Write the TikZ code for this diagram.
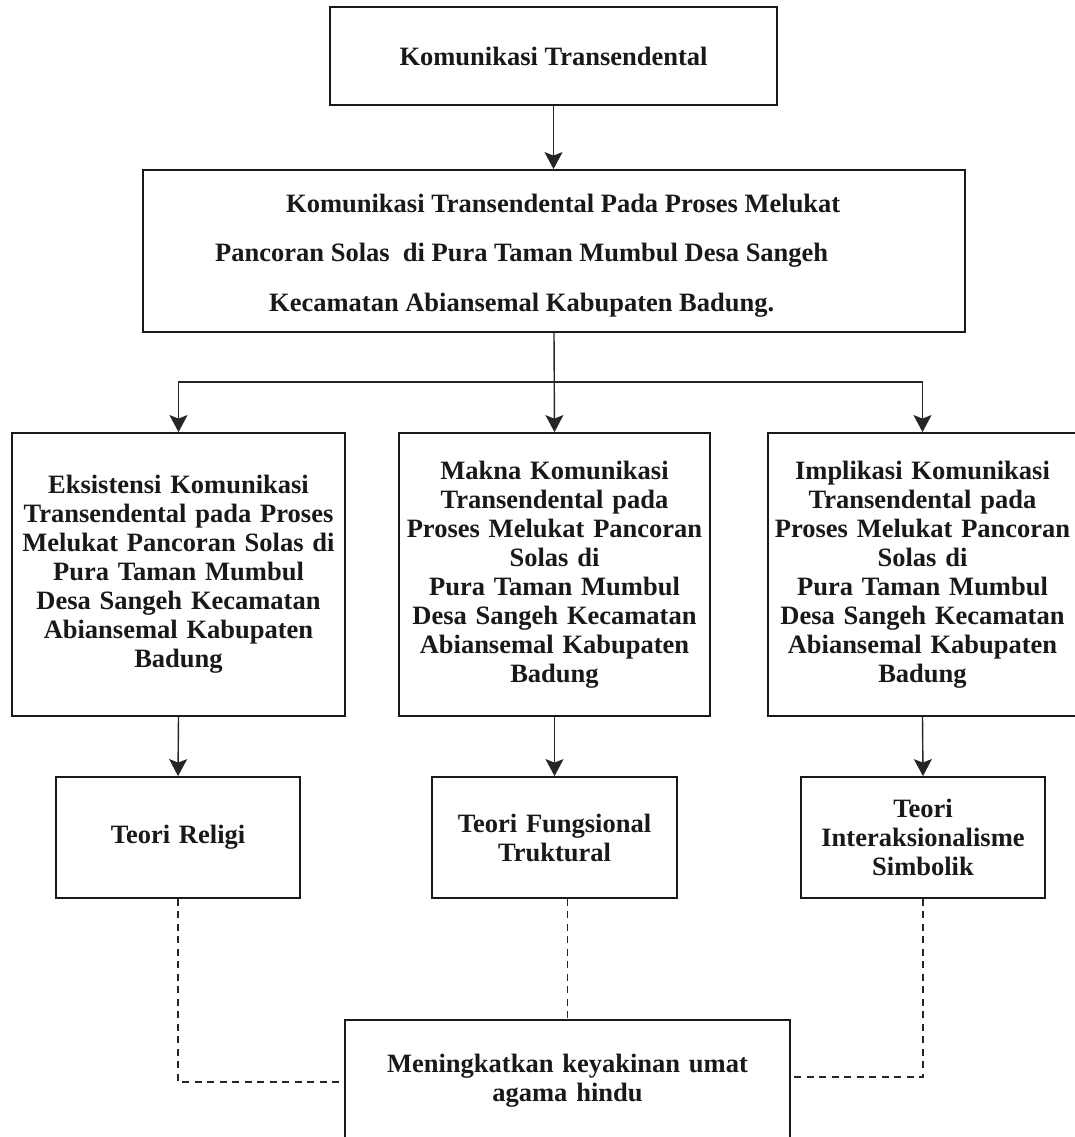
\documentclass[tikz,border=0pt]{standalone}
\usepackage{fontspec}
\setmainfont{Liberation Serif}
\usetikzlibrary{arrows.meta,calc}
\begin{document}
\begin{tikzpicture}[x=1pt,y=-1pt,
  txt/.style={font=\fontsize{26.5}{29}\selectfont\bfseries, text=black!90},
  box/.style={txt, draw=black!90, line width=1.8pt, align=center, inner sep=0pt},
  arr/.style={draw=black!85, line width=1.4pt, -{Stealth[length=17pt,width=18pt,inset=3.5pt]}},
  dashline/.style={draw=black!85, line width=1.4pt, dash pattern=on 7pt off 5.5pt}
]
\clip (0,0) rectangle (1075,1137);
\fill[white] (0,0) rectangle (1075,1137);

% top
\node[box, minimum width=447pt, minimum height=98pt] (top) at (553.5,56) {Komunikasi Transendental};

% main
\node[box, minimum width=822pt, minimum height=162pt] (main) at (554,251) {};
\node[txt, anchor=base west, inner sep=0pt] (m1) at (286,212) {Komunikasi Transendental Pada Proses Melukat};
\node[txt, anchor=base west, inner sep=0pt] (m2) at (215,261) {Pancoran Solas~~di Pura Taman Mumbul Desa Sangeh};
\node[txt, anchor=base west, inner sep=0pt] (m3) at (269,311) {Kecamatan Abiansemal Kabupaten Badung.};

% three middle boxes
\node[box, minimum width=333pt, minimum height=283pt, text width=333pt] (b1) at (178.5,574.5)
  {Eksistensi Komunikasi\\Transendental pada Proses\\Melukat Pancoran Solas di\\Pura Taman Mumbul\\Desa Sangeh Kecamatan\\Abiansemal Kabupaten\\Badung};
\node[box, minimum width=311pt, minimum height=283pt, text width=311pt] (b2) at (554.5,574.5)
  {Makna Komunikasi\\Transendental pada\\Proses Melukat Pancoran\\Solas di\\Pura Taman Mumbul\\Desa Sangeh Kecamatan\\Abiansemal Kabupaten\\Badung};
\node[box, minimum width=309pt, minimum height=283pt, text width=309pt] (b3) at (922.5,574.5)
  {Implikasi Komunikasi\\Transendental pada\\Proses Melukat Pancoran\\Solas di\\Pura Taman Mumbul\\Desa Sangeh Kecamatan\\Abiansemal Kabupaten\\Badung};

% theory boxes
\node[box, minimum width=244pt, minimum height=121pt, text width=244pt] (t1) at (178,837.5) {Teori Religi};
\node[box, minimum width=245pt, minimum height=121pt, text width=245pt] (t2) at (554.5,837.5) {Teori Fungsional\\Truktural};
\node[box, minimum width=244pt, minimum height=121pt, text width=244pt] (t3) at (923,837.5) {Teori\\Interaksionalisme\\Simbolik};

% bottom
\node[box, minimum width=445pt, minimum height=122pt, text width=445pt] (bot) at (567.5,1081) {Meningkatkan keyakinan umat\\agama hindu};

% connectors
\coordinate (hub) at (554,382);
\draw[arr] (top.south) -- (main.north -| top.south);
\draw[arr] (main.south) -- (b2.north);
\draw[arr] (hub) -| (b1.north);
\draw[arr] (hub) -| (b3.north);
\draw[arr] (b1.south) -- (t1.north);
\draw[arr] (b2.south) -- (t2.north);
\draw[arr] (b3.south) -- (t3.north);

\draw[dashline] (t1.south) |- ($(bot.west)+(0,1)$);
\draw[dashline] (bot.north |- t2.south) -- (bot.north);
\draw[dashline] (t3.south) |- ($(bot.east)+(0,-4)$);
\end{tikzpicture}
\end{document}
